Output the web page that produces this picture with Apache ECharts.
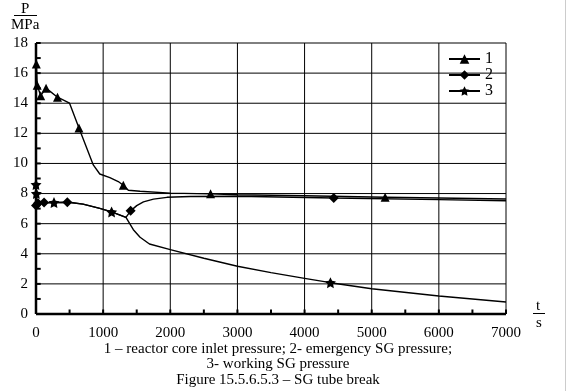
<!DOCTYPE html>
<html><head><meta charset="utf-8">
<script src="https://cdn.jsdelivr.net/npm/echarts@6/dist/echarts.min.js"></script>
<style>html,body{margin:0;padding:0;background:#fff}#c{width:570px;height:391px}</style>
</head><body><div id="c"></div>
<script>
// Series 1 – reactor core inlet pressure
const t1 = [0, 5, 18, 70, 150, 320, 500, 640, 853, 950, 1100, 1225, 1300, 1375, 1550, 2000, 2600, 3000, 4000, 5200, 6000, 7000];
const p1 = [16.9, 16.6, 15.2, 14.5, 15.0, 14.4, 14.0, 12.35, 9.9, 9.3, 9.06, 8.8, 8.55, 8.22, 8.15, 8.03, 7.98, 7.92, 7.85, 7.75, 7.7, 7.64];
const m1 = [1, 2, 3, 4, 5, 7, 12, 16, 19];
// Series 2 – emergency SG pressure
const t2 = [0, 30, 120, 466, 700, 950, 1126, 1340, 1409, 1500, 1600, 1750, 1950, 2300, 3000, 4435, 6000, 7000];
const p2 = [7.2, 7.35, 7.4, 7.42, 7.3, 7.02, 6.78, 6.42, 6.85, 7.2, 7.45, 7.63, 7.75, 7.8, 7.82, 7.7, 7.6, 7.52];
const m2 = [0, 1, 2, 3, 8, 15];
// Series 3 – working SG pressure
const t3 = [0, 5, 15, 268, 500, 700, 950, 1126, 1340, 1450, 1550, 1690, 2000, 2500, 3000, 3500, 4000, 4385, 5000, 6000, 7000];
const p3 = [8.6, 8.0, 7.35, 7.4, 7.42, 7.3, 7.02, 6.78, 6.42, 5.6, 5.1, 4.65, 4.28, 3.7, 3.17, 2.75, 2.37, 2.08, 1.68, 1.2, 0.8];
const m3 = [0, 1, 3, 7, 17];
const names = ['1', '2', '3'];
const xTicks = [0, 1000, 2000, 3000, 4000, 5000, 6000, 7000];
const yTicks = [0, 2, 4, 6, 8, 10, 12, 14, 16, 18];
const xMinor = [500, 1500, 2500, 3500, 4500, 5500, 6500];
const yMinor = [1, 3, 5, 7, 9, 11, 13, 15, 17];

const STAR = 'path://M0,-10L2.94,-4.05L9.51,-3.09L4.76,1.55L5.88,8.09L0,5L-5.88,8.09L-4.76,1.55L-9.51,-3.09L-2.94,-4.05Z';
function build(t, p, m, sym) {
  return t.map((x, i) => ({ value: [x, p[i]], symbol: m.includes(i) ? sym : 'none' }));
}
const serif = '"Liberation Serif", "DejaVu Serif", serif';
const chart = echarts.init(document.getElementById('c'));
function mk(name, t, p, m, sym, size) {
  return {
    name, type: 'line', data: build(t, p, m, sym), symbol: sym, symbolSize: size,
    showSymbol: true, showAllSymbol: true, animation: false, z: 5,
    lineStyle: { color: '#000', width: 1.4 }, itemStyle: { color: '#000' }
  };
}
// helper lines (grid, frame, ticks) drawn through the axes' scales
function seg(a, b, w, z) {
  return { type: 'line', data: [a, b], symbol: 'none', silent: true, animation: false, clip: false,
    z: z, lineStyle: { color: '#000', width: w }, tooltip: { show: false } };
}
const frameSeries = [];
xTicks.forEach(v => frameSeries.push(seg([v, 0], [v, 18], 1, 1)));
yTicks.forEach(v => frameSeries.push(seg([0, v], [7000, v], 1, 1)));
xTicks.concat(xMinor).forEach(v => frameSeries.push(seg([v, 0], [v, 0.3], 2, 2)));
yTicks.concat(yMinor).forEach(v => frameSeries.push(seg([0, v], [70, v], 2, 2)));
frameSeries.push(seg([0, 0], [7000, 0], 2.5, 3));
frameSeries.push(seg([0, 0], [0, 18], 2.5, 3));

function axisCommon(labels) {
  return {
    axisLine: { show: false },
    axisTick: { show: false },
    splitLine: { show: false },
    axisLabel: { show: true, fontFamily: serif, fontSize: 15, color: '#000',
      formatter: v => labels.includes(v) ? String(v) : '' }
  };
}
const xa = Object.assign({ type: 'value', min: 0, max: 7000, interval: 1000 }, axisCommon(xTicks));
xa.axisLabel.margin = 12;
const ya = Object.assign({ type: 'value', min: 0, max: 18, interval: 2 }, axisCommon(yTicks));
ya.axisLabel.margin = 8;
chart.setOption({
  grid: { left: 36, right: 64, top: 43, bottom: 77 },
  legend: {
    orient: 'vertical', left: 443, top: 46, itemWidth: 31, itemHeight: 12, itemGap: 0,
    data: names,
    textStyle: { fontFamily: serif, fontSize: 16, lineHeight: 14, color: '#000' }
  },
  xAxis: xa,
  yAxis: ya,
  series: [
    mk(names[0], t1, p1, m1, 'triangle', 9),
    mk(names[1], t2, p2, m2, 'diamond', 10),
    mk(names[2], t3, p3, m3, STAR, 11)
  ].concat(frameSeries),
  graphic: [
    { type: 'text', left: 21, top: 2, style: { text: 'P', font: '15px ' + serif, fill: '#000' } },
    { type: 'rect', shape: { x: 14, y: 15, width: 23, height: 1 }, style: { fill: '#000' } },
    { type: 'text', left: 11, top: 18, style: { text: 'MPa', font: '15px ' + serif, fill: '#000' } },
    { type: 'text', left: 536, top: 299, style: { text: 't', font: '15px ' + serif, fill: '#000' } },
    { type: 'rect', shape: { x: 533, y: 313, width: 12, height: 1 }, style: { fill: '#000' } },
    { type: 'text', left: 536, top: 316, style: { text: 's', font: '15px ' + serif, fill: '#000' } },
    { type: 'text', x: 278, y: 349, style: { text: '1 – reactor core inlet pressure; 2- emergency SG pressure;', font: '15px ' + serif, fill: '#000', align: 'center', verticalAlign: 'middle' } },
    { type: 'text', x: 278, y: 364, style: { text: '3- working SG pressure', font: '15px ' + serif, fill: '#000', align: 'center', verticalAlign: 'middle' } },
    { type: 'text', x: 278, y: 380, style: { text: 'Figure 15.5.6.5.3 – SG tube break', font: '15px ' + serif, fill: '#000', align: 'center', verticalAlign: 'middle' } },
    { type: 'rect', shape: { x: 565, y: 0, width: 1, height: 391 }, style: { fill: '#ccc' } }
  ]
});
</script></body></html>
